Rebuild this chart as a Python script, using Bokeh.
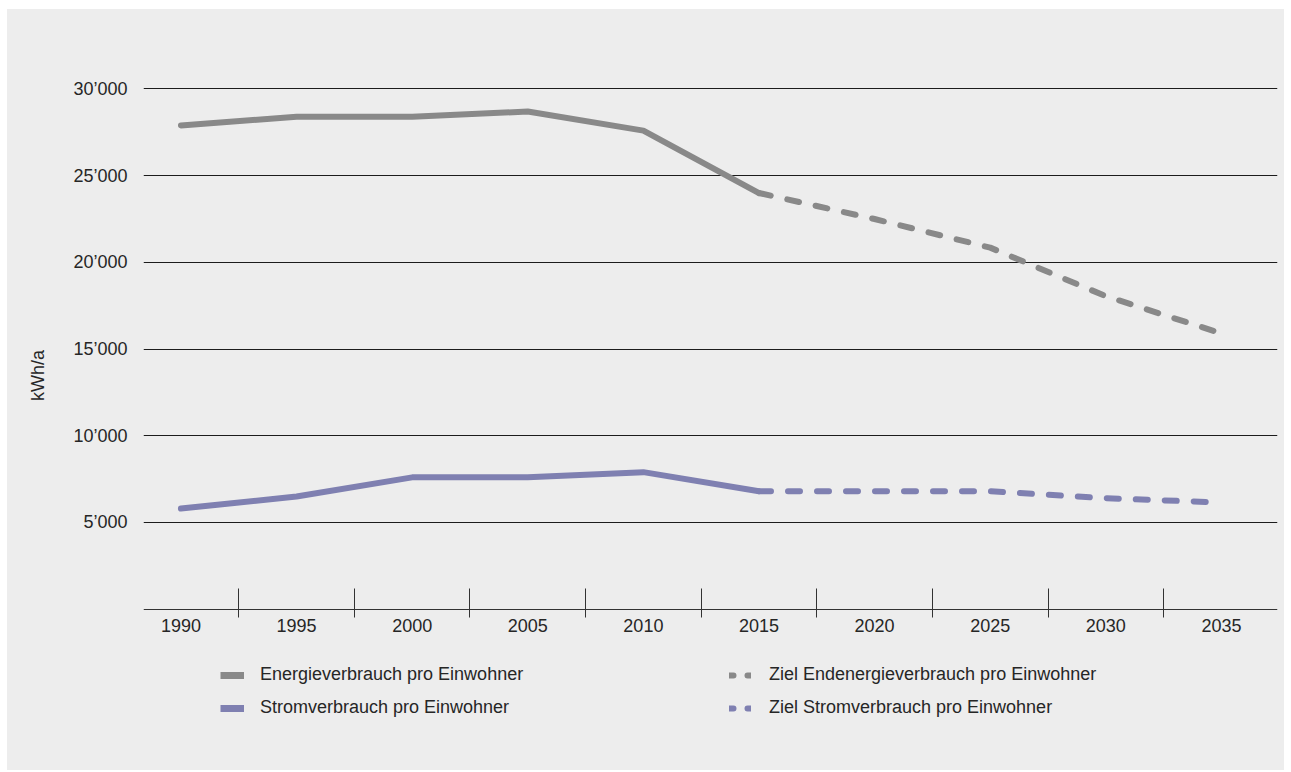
from bokeh.plotting import figure
from bokeh.models import FixedTicker, Legend, LegendItem, Range1d
from bokeh.embed import file_html
from bokeh.resources import INLINE

# ---- data ----
years = ["1990", "1995", "2000", "2005", "2010", "2015", "2020", "2025", "2030", "2035"]

hist_years = ["1990", "1995", "2000", "2005", "2010", "2015"]
target_years = ["2015", "2020", "2025", "2030", "2035"]

energy_hist = [27900, 28400, 28400, 28700, 27600, 24000]
energy_target = [24000, 22500, 20850, 18050, 15900]

power_hist = [5800, 6500, 7600, 7600, 7900, 6800]
power_target = [6800, 6800, 6800, 6400, 6150]

y_ticks = [5000, 10000, 15000, 20000, 25000, 30000]
y_tick_labels = ["5’000", "10’000", "15’000", "20’000", "25’000", "30’000"]

legend_labels = [
    "Energieverbrauch pro Einwohner",
    "Stromverbrauch pro Einwohner",
    "Ziel Endenergieverbrauch pro Einwohner",
    "Ziel Stromverbrauch pro Einwohner",
]

# ---- styles ----
GREY = "#898989"
PURPLE = "#7f80b1"
BG = "#ededed"
TXT = "#262626"
FONT = "Liberation Sans"

pos = {y: i for i, y in enumerate(years)}
hx = [pos[y] for y in hist_years]
tx = [pos[y] for y in target_years]

p = figure(width=1277, height=761, output_backend="svg", toolbar_location=None,
           x_range=Range1d(-0.324, 9.485), y_range=Range1d(-7000, 33950),
           min_border_left=136, min_border_right=7, min_border_top=11, min_border_bottom=40)
p.margin = (9, 0, 0, 7)
p.styles = {"background-color": BG}
p.background_fill_alpha = 0
p.border_fill_alpha = 0
p.outline_line_color = None

# lines
p.line(hx, energy_hist, line_color=GREY, line_width=6, line_cap="round", line_join="round")
p.line(tx, energy_target, line_color=GREY, line_width=6, line_cap="round", line_join="round",
       line_dash="12 17")
p.line(hx, power_hist, line_color=PURPLE, line_width=6, line_cap="round", line_join="round")
p.line(tx, power_target, line_color=PURPLE, line_width=6, line_cap="round", line_join="round",
       line_dash="12 17")

# hidden legend proxies (same data, styled like the legend swatches)
lg_e = p.line(hx, energy_hist, line_color=GREY, line_width=7, line_cap="butt", visible=False)
lg_p = p.line(hx, power_hist, line_color=PURPLE, line_width=7, line_cap="butt", visible=False)
lg_te = p.line(tx, energy_target, line_color=GREY, line_width=6, line_cap="round",
               line_dash="4 14", visible=False)
lg_tp = p.line(tx, power_target, line_color=PURPLE, line_width=6, line_cap="round",
               line_dash="4 14", visible=False)


def make_legend(items, loc, gw, standoff):
    return Legend(items=items, location=loc, orientation="vertical",
                  glyph_width=gw, glyph_height=20, label_height=20, spacing=12,
                  label_standoff=standoff, padding=0, margin=0, click_policy="none",
                  inactive_fill_alpha=0,
                  border_line_color=None, background_fill_alpha=0,
                  label_text_font=FONT, label_text_font_size="18px", label_text_color=TXT)


leg1 = make_legend([LegendItem(label=legend_labels[0], renderers=[lg_e]),
                    LegendItem(label=legend_labels[1], renderers=[lg_p])], (77, 12), 24, 16)
leg2 = make_legend([LegendItem(label=legend_labels[2], renderers=[lg_te]),
                    LegendItem(label=legend_labels[3], renderers=[lg_tp])], (586, 12), 22, 18)
p.add_layout(leg1)
p.add_layout(leg2)

# y axis
p.yaxis.ticker = FixedTicker(ticks=y_ticks)
p.yaxis.major_label_overrides = {t: l for t, l in zip(y_ticks, y_tick_labels)}
p.yaxis.axis_line_color = None
p.yaxis.major_tick_line_color = None
p.yaxis.minor_tick_line_color = None
p.yaxis.major_tick_in = 0
p.yaxis.major_tick_out = 0
p.yaxis.major_label_standoff = 16
p.yaxis.major_label_text_font = FONT
p.yaxis.major_label_text_font_size = "18px"
p.yaxis.major_label_text_color = TXT
p.yaxis.axis_label = "kWh/a"
p.yaxis.axis_label_text_font = FONT
p.yaxis.axis_label_text_font_size = "18px"
p.yaxis.axis_label_text_font_style = "normal"
p.yaxis.axis_label_text_color = TXT
p.yaxis.axis_label_standoff = 22

p.ygrid.ticker = FixedTicker(ticks=y_ticks)
p.ygrid.grid_line_color = "#1c1c1c"
p.ygrid.grid_line_width = 1
p.xgrid.visible = False

# x axis (drawn at y = 0)
p.xaxis.fixed_location = 0
p.xaxis.ticker = FixedTicker(ticks=list(range(len(years))),
                             minor_ticks=[i + 0.5 for i in range(len(years) - 1)])
p.xaxis.major_label_overrides = {i: y for i, y in enumerate(years)}
p.xaxis.axis_line_color = "#333333"
p.xaxis.axis_line_width = 1
p.xaxis.major_tick_line_color = None
p.xaxis.major_tick_in = 0
p.xaxis.major_tick_out = 0
p.xaxis.minor_tick_line_color = "#333333"
p.xaxis.minor_tick_in = 21
p.xaxis.minor_tick_out = 8
p.xaxis.major_label_standoff = 2
p.xaxis.major_label_text_font = FONT
p.xaxis.major_label_text_font_size = "18px"
p.xaxis.major_label_text_color = TXT

open("out.html", "w").write(file_html(p, INLINE))
